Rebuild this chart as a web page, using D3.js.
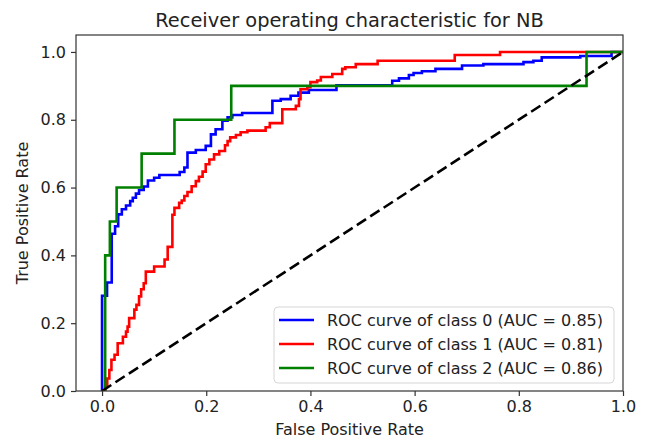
<!DOCTYPE html>
<html>
<head>
<meta charset="utf-8">
<script src="https://cdn.jsdelivr.net/npm/d3@7"></script>
<style>
  body { margin: 0; background: #fff; }
  text { font-family: "DejaVu Sans", sans-serif; fill: #222; }
</style>
</head>
<body>
<div id="chart"></div>
<script>
// ROC points (fpr, tpr), step after each point
var fpr0 = [0, 0, 0.0096, 0.0186, 0.025, 0.031, 0.038, 0.046, 0.054, 0.059, 0.065, 0.071, 0.08, 0.088, 0.1, 0.11, 0.149, 0.158, 0.164, 0.18,
  0.199, 0.209, 0.218, 0.231, 0.241, 0.25, 0.269, 0.327, 0.343, 0.362, 0.377, 0.397, 0.45, 0.557, 0.57, 0.589, 0.598, 0.614, 0.64, 0.691,
  0.732, 0.809, 0.828, 0.844, 0.918, 0.978, 1];
var tpr0 = [0, 0.281, 0.32, 0.464, 0.486, 0.521, 0.536, 0.547, 0.56, 0.57, 0.582, 0.593, 0.603, 0.621, 0.629, 0.637, 0.646, 0.659, 0.703, 0.711,
  0.723, 0.757, 0.772, 0.797, 0.807, 0.814, 0.82, 0.856, 0.861, 0.871, 0.88, 0.888, 0.902, 0.915, 0.922, 0.932, 0.938, 0.943, 0.95, 0.96,
  0.964, 0.97, 0.974, 0.984, 0.988, 1, 1];

var fpr1 = [0, 0.006, 0.01, 0.014, 0.018, 0.024, 0.03, 0.04, 0.046, 0.049, 0.052, 0.062, 0.066, 0.071, 0.075, 0.08, 0.084, 0.1, 0.12, 0.126,
  0.135, 0.139, 0.148, 0.153, 0.158, 0.164, 0.172, 0.18, 0.186, 0.193, 0.199, 0.206, 0.215, 0.225, 0.236, 0.241, 0.246, 0.257, 0.266, 0.279,
  0.314, 0.322, 0.346, 0.372, 0.378, 0.381, 0.394, 0.4, 0.413, 0.42, 0.442, 0.461, 0.467, 0.487, 0.529, 0.677, 0.764, 1];
var tpr1 = [0, 0.013, 0.037, 0.062, 0.092, 0.107, 0.141, 0.16, 0.175, 0.19, 0.215, 0.24, 0.254, 0.279, 0.3, 0.318, 0.352, 0.367, 0.388, 0.425,
  0.52, 0.54, 0.555, 0.562, 0.575, 0.587, 0.604, 0.619, 0.632, 0.647, 0.669, 0.683, 0.698, 0.708, 0.725, 0.737, 0.748, 0.755, 0.763, 0.768,
  0.778, 0.79, 0.831, 0.841, 0.861, 0.89, 0.896, 0.911, 0.916, 0.926, 0.935, 0.95, 0.955, 0.964, 0.974, 0.991, 1, 1];

var fpr2 = [0, 0.006, 0.015, 0.028, 0.076, 0.139, 0.248, 0.93, 1];
var tpr2 = [0, 0.4, 0.5, 0.6, 0.7, 0.8, 0.9, 1, 1];

var classNames = ["0", "1", "2"];
var aucs = [0.85, 0.81, 0.86];
var colors = ["blue", "red", "green"];
var ticks = [0, 0.2, 0.4, 0.6, 0.8, 1.0];

var width = 649, height = 440;
var margin = {left: 76, right: 26, top: 35, bottom: 49};

var svg = d3.select("#chart")
  .append("svg")
  .attr("width", width)
  .attr("height", height);

var x = d3.scaleLinear().domain([-0.05, 1.0]).range([margin.left, width - margin.right]);
var y = d3.scaleLinear().domain([0, 1.05]).range([height - margin.bottom, margin.top]);

var series = [
  {fpr: fpr0, tpr: tpr0},
  {fpr: fpr1, tpr: tpr1},
  {fpr: fpr2, tpr: tpr2}
];

svg.append("clipPath").attr("id", "clip")
  .append("rect")
  .attr("x", x(-0.05)).attr("y", y(1.05))
  .attr("width", x(1) - x(-0.05)).attr("height", y(0) - y(1.05));

var line = d3.line()
  .x(function(d){ return x(d[0]); })
  .y(function(d){ return y(d[1]); })
  .curve(d3.curveStepAfter);

var plot = svg.append("g").attr("clip-path", "url(#clip)");

series.forEach(function(s, i){
  plot.append("path")
    .datum(d3.zip(s.fpr, s.tpr))
    .attr("fill", "none")
    .attr("stroke", colors[i])
    .attr("stroke-width", 2.6)
    .attr("d", line);
});

// chance diagonal
plot.append("path")
  .datum([[0, 0], [1, 1]])
  .attr("fill", "none")
  .attr("stroke", "#000")
  .attr("stroke-width", 2.6)
  .attr("stroke-dasharray", "11,5")
  .attr("d", d3.line().x(function(d){ return x(d[0]); }).y(function(d){ return y(d[1]); }));

// axes
var xAxis = svg.append("g")
  .attr("transform", "translate(0," + y(0) + ")")
  .call(d3.axisBottom(x).tickValues(ticks).tickFormat(d3.format(".1f")).tickSize(5).tickPadding(5));
var yAxis = svg.append("g")
  .attr("transform", "translate(" + x(-0.05) + ",0)")
  .call(d3.axisLeft(y).tickValues(ticks).tickFormat(d3.format(".1f")).tickSize(5).tickPadding(5));

[xAxis, yAxis].forEach(function(a){
  a.select(".domain").remove();
  a.selectAll(".tick line").attr("stroke", "#333").attr("stroke-width", 1.2);
  a.selectAll(".tick text").style("font-size", "16px").style("font-family", "DejaVu Sans").attr("fill", "#222");
});

// frame
svg.append("rect")
  .attr("x", x(-0.05)).attr("y", y(1.05))
  .attr("width", x(1) - x(-0.05)).attr("height", y(0) - y(1.05))
  .attr("fill", "none")
  .attr("stroke", "#333")
  .attr("stroke-width", 1.2);

// titles
svg.append("text")
  .attr("x", (x(-0.05) + x(1)) / 2)
  .attr("y", 27)
  .attr("text-anchor", "middle")
  .style("font-size", "19.4px")
  .text("Receiver operating characteristic for NB");

svg.append("text")
  .attr("x", (x(-0.05) + x(1)) / 2)
  .attr("y", 435)
  .attr("text-anchor", "middle")
  .style("font-size", "16px")
  .text("False Positive Rate");

svg.append("text")
  .attr("transform", "translate(28," + ((y(0) + y(1.05)) / 2) + ") rotate(-90)")
  .attr("text-anchor", "middle")
  .style("font-size", "16px")
  .text("True Positive Rate");

// legend
var legend = svg.append("g").attr("transform", "translate(274,307)");
legend.append("rect")
  .attr("width", 340).attr("height", 76)
  .attr("rx", 4).attr("ry", 4)
  .attr("fill", "#fff").attr("fill-opacity", 0.8)
  .attr("stroke", "#d6d6d6").attr("stroke-width", 1);

var items = legend.selectAll(".item")
  .data(classNames)
  .enter().append("g")
  .attr("class", "item")
  .attr("transform", function(d, i){ return "translate(0," + (13 + i * 24) + ")"; });

items.append("line")
  .attr("x1", 5).attr("x2", 40)
  .attr("stroke", function(d, i){ return colors[i]; })
  .attr("stroke-width", 2.6);

items.append("text")
  .attr("x", 53)
  .attr("y", 6)
  .style("font-size", "16px")
  .text(function(d, i){ return "ROC curve of class " + d + " (AUC = " + aucs[i].toFixed(2) + ")"; });
</script>
</body>
</html>
